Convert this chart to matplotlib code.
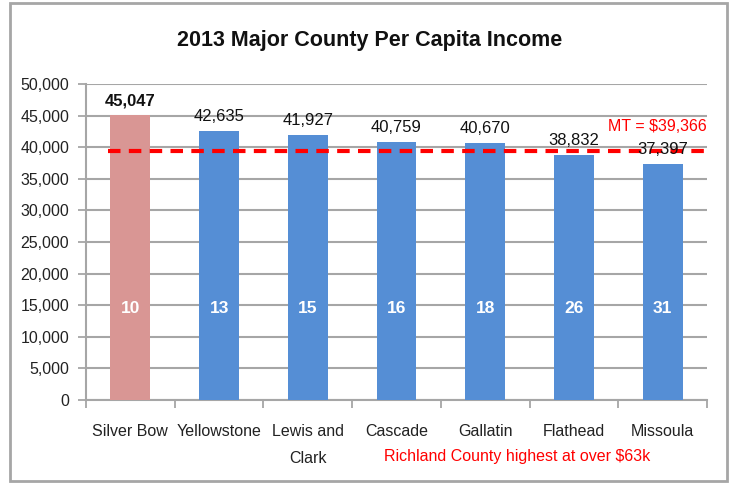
import numpy as np
import matplotlib
matplotlib.use("Agg")
import matplotlib.pyplot as plt
from matplotlib.patches import Rectangle

plt.rcParams['font.family'] = ['Liberation Sans', 'DejaVu Sans']

# data
counties = ["Silver Bow", "Yellowstone", "Lewis and\nClark", "Cascade",
            "Gallatin", "Flathead", "Missoula"]
income = [45047, 42635, 41927, 40759, 40670, 38832, 37397]
ranks = [10, 13, 15, 16, 18, 26, 31]
mt_avg = 39366
yticks = list(range(0, 50001, 5000))

colors = ["#D99694"] + ["#558ED5"] * (len(counties) - 1)

fig = plt.figure(figsize=(7.31, 4.83), dpi=100)
ax = fig.add_axes([86 / 731, 83 / 483, 621 / 731, 316 / 483])

x = np.arange(len(counties))
bars = ax.bar(x, income, width=0.45, color=colors, zorder=3)

ax.set_xlim(-0.5, len(counties) - 0.5)
ax.set_ylim(0, 50000)
ax.set_yticks(yticks)
ax.set_yticklabels([f"{v:,}" for v in yticks], fontsize=11.5, color="#222222")
ax.yaxis.grid(True, color="#A6A6A6", linewidth=1.5, zorder=0)

# category separators as x ticks
ax.set_xticks(np.arange(-0.5, len(counties), 1.0))
ax.set_xticklabels([])
ax.set_xticks(x, minor=True)
ax.set_xticklabels(counties, minor=True, fontsize=11.5, color="#222222",
                   linespacing=2.0)
ax.tick_params(axis="x", which="minor", length=0, pad=17)
ax.tick_params(axis="x", which="major", length=6, color="#A6A6A6", width=1.3)
ax.tick_params(axis="y", length=6, color="#A6A6A6", width=1.3, pad=6)

for s in ["top", "right"]:
    ax.spines[s].set_visible(False)
for s in ["left", "bottom"]:
    ax.spines[s].set_color("#A6A6A6")
    ax.spines[s].set_linewidth(1.5)

# value labels above bars
for i, (b, v) in enumerate(zip(bars, income)):
    ax.annotate(f"{v:,}", (b.get_x() + b.get_width() / 2, v),
                xytext=(0, 5), textcoords="offset points", ha="center",
                va="bottom", fontsize=12,
                fontweight="bold" if i == 0 else "normal", color="#111111",
                zorder=5)
    ax.text(b.get_x() + b.get_width() / 2, 14500, str(ranks[i]), ha="center",
            va="center", color="white", fontsize=12.5, fontweight="bold",
            zorder=5)

# state average line
ax.axhline(mt_avg, xmin=0.035, xmax=1.0, color="#FF0000", linewidth=3,
           linestyle=(0, (3, 2)), zorder=4)
ax.text(len(counties) - 0.5, mt_avg + 2700, f"MT = ${mt_avg:,}", ha="right",
        va="bottom", color="#FF0000", fontsize=11.5, zorder=6)

fig.text(0.505, 0.917, "2013 Major County Per Capita Income", ha="center",
         va="center", fontsize=15.5, fontweight="bold", color="#111111")
fig.text(517 / 731, 1 - 456 / 483, "Richland County highest at over $63k",
         ha="center", va="center", fontsize=11.5, color="#FF0000")

# outer chart border
fig.patches.append(Rectangle((10 / 731, 2 / 483), 717 / 731, 478 / 483,
                             transform=fig.transFigure, fill=False,
                             edgecolor="#A6A6A6", linewidth=2))

fig.savefig("out.png", dpi=100)
